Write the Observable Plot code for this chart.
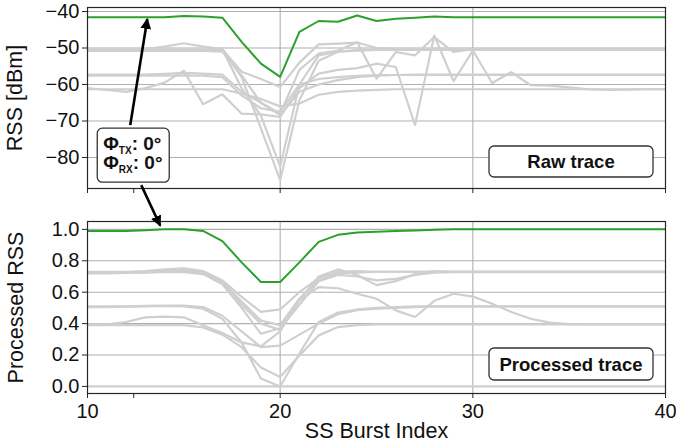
<!DOCTYPE html>
<html><head><meta charset="utf-8">
<script src="https://cdn.jsdelivr.net/npm/d3@7"></script>
<script src="https://cdn.jsdelivr.net/npm/@observablehq/plot@0.6"></script>
<style>
body{margin:0;background:#fff;}
#wrap{position:relative;width:676px;height:447px;font-family:"Liberation Sans",Arial,Helvetica,sans-serif;}
#wrap > svg{position:absolute;left:0;}
</style></head><body><div id="wrap"></div>
<script>
// SS burst indices
const burstIndex = [10,11,12,13,14,15,16,17,18,19,20,21,22,23,24,25,26,27,28,29,30,31,32,33,34,35,36,37,38,39,40];

// Raw RSS [dBm] — highlighted beam pair (green)
const rawBest = [-41.6,-41.6,-41.6,-41.6,-41.6,-41.2,-41.4,-41.7,-48.3,-54.3,-57.9,-45.6,-42.6,-42.8,-41.1,-42.6,-42.0,-41.7,-41.4,-41.6,-41.6,-41.6,-41.6,-41.6,-41.6,-41.6,-41.6,-41.6,-41.6,-41.6,-41.6];
// Raw RSS [dBm] — other beam pairs (grey)
const rawT1 = [-50.3,-50.3,-50.3,-50.3,-49.6,-48.7,-49.6,-50.3,-56.5,-58.5,-60.7,-54.0,-49.0,-48.8,-48.5,-50.0,-50.3,-50.4,-50.4,-50.4,-50.4,-50.4,-50.4,-50.4,-50.4,-50.4,-50.4,-50.4,-50.4,-50.4,-50.4];
const rawT2 = [-50.5,-50.5,-50.5,-50.5,-50.5,-50.5,-50.5,-50.5,-58.0,-72.0,-86.2,-64.3,-53.5,-51.0,-50.7,-50.5,-50.5,-50.5,-50.5,-50.5,-50.5,-50.5,-50.5,-50.5,-50.5,-50.5,-50.5,-50.5,-50.5,-50.5,-50.5];
const rawT3 = [-50.8,-50.8,-50.8,-50.8,-50.8,-50.8,-50.8,-51.0,-57.5,-65.0,-68.0,-56.0,-51.5,-50.7,-48.4,-58.4,-51.1,-52.0,-47.0,-51.1,-50.3,-50.3,-50.3,-50.3,-50.3,-50.3,-50.3,-50.3,-50.3,-50.3,-50.3];
const rawT4 = [-50.4,-50.4,-50.4,-50.4,-50.4,-50.4,-50.4,-50.4,-61.0,-68.5,-82.5,-60.0,-52.0,-51.0,-50.6,-50.5,-50.5,-50.5,-50.5,-50.5,-50.5,-50.5,-50.5,-50.5,-50.5,-50.5,-50.5,-50.5,-50.5,-50.5,-50.5];
const rawT5 = [-57.3,-57.3,-57.3,-57.3,-57.1,-56.8,-57.0,-57.3,-62.0,-65.0,-68.4,-62.0,-60.0,-58.8,-58.0,-57.6,-57.4,-57.3,-57.3,-57.3,-57.3,-57.3,-57.3,-57.3,-57.3,-57.3,-57.3,-57.3,-57.3,-57.3,-57.3];
const rawT6 = [-61.0,-61.5,-62.0,-61.0,-59.5,-56.2,-65.4,-62.7,-68.0,-68.2,-68.9,-61.0,-57.0,-56.0,-55.5,-54.3,-55.2,-71.1,-46.6,-59.1,-50.7,-59.6,-56.6,-60.2,-60.3,-60.8,-61.3,-61.5,-61.4,-61.3,-61.3];
const rawT7 = [-61.3,-61.3,-61.3,-61.3,-61.3,-61.3,-61.3,-61.3,-62.5,-64.0,-66.0,-65.2,-62.8,-62.0,-61.7,-61.5,-61.3,-61.3,-61.3,-61.3,-61.3,-61.3,-61.3,-61.3,-61.3,-61.3,-61.3,-61.3,-61.3,-61.3,-61.3];
const rawT8 = [-57.6,-57.6,-57.6,-57.6,-57.6,-57.5,-57.6,-58.0,-63.0,-66.5,-67.5,-60.0,-58.5,-58.0,-57.6,-57.4,-57.4,-57.4,-57.4,-57.4,-57.4,-57.4,-57.4,-57.4,-57.4,-57.4,-57.4,-57.4,-57.4,-57.4,-57.4];

// Processed RSS — highlighted beam pair (green)
const procBest = [0.99,0.99,0.99,0.995,1.0,1.0,0.99,0.925,0.79,0.665,0.665,0.79,0.92,0.965,0.98,0.985,0.99,0.993,0.997,1.0,1.0,1.0,1.0,1.0,1.0,1.0,1.0,1.0,1.0,1.0,1.0];
// Processed RSS — other beam pairs (grey)
const procP1 = [0.725,0.726,0.728,0.735,0.745,0.752,0.735,0.675,0.57,0.475,0.49,0.60,0.69,0.73,0.735,0.73,0.73,0.73,0.73,0.73,0.73,0.73,0.73,0.73,0.73,0.73,0.73,0.73,0.73,0.73,0.73];
const procP2 = [0.73,0.73,0.73,0.73,0.735,0.74,0.73,0.665,0.54,0.42,0.39,0.56,0.675,0.72,0.725,0.73,0.73,0.73,0.73,0.73,0.73,0.73,0.73,0.73,0.73,0.73,0.73,0.73,0.73,0.73,0.73];
const procP3 = [0.72,0.72,0.722,0.725,0.73,0.733,0.72,0.66,0.52,0.40,0.36,0.55,0.70,0.745,0.71,0.645,0.67,0.715,0.735,0.73,0.73,0.73,0.73,0.73,0.73,0.73,0.73,0.73,0.73,0.73,0.73];
const procP4 = [0.728,0.728,0.728,0.728,0.728,0.728,0.715,0.65,0.50,0.335,0.37,0.52,0.67,0.71,0.70,0.675,0.685,0.71,0.725,0.728,0.728,0.728,0.728,0.728,0.728,0.728,0.728,0.728,0.728,0.728,0.728];
const procP5 = [0.51,0.51,0.51,0.513,0.515,0.515,0.505,0.45,0.35,0.25,0.26,0.33,0.40,0.46,0.485,0.495,0.50,0.505,0.51,0.51,0.51,0.51,0.51,0.51,0.51,0.51,0.51,0.51,0.51,0.51,0.51];
const procP6 = [0.395,0.395,0.41,0.44,0.445,0.44,0.39,0.34,0.28,0.255,0.35,0.55,0.632,0.625,0.59,0.558,0.484,0.442,0.545,0.59,0.572,0.527,0.474,0.431,0.406,0.397,0.395,0.395,0.395,0.395,0.395];
const procP7 = [0.39,0.39,0.39,0.39,0.39,0.39,0.375,0.33,0.25,0.12,0.06,0.197,0.325,0.378,0.39,0.395,0.395,0.395,0.395,0.395,0.395,0.395,0.395,0.395,0.395,0.395,0.395,0.395,0.395,0.395,0.395];
const procP8 = [0.505,0.505,0.508,0.51,0.512,0.51,0.495,0.43,0.28,0.05,0.0,0.21,0.41,0.47,0.49,0.50,0.505,0.51,0.51,0.51,0.51,0.51,0.51,0.51,0.51,0.51,0.51,0.51,0.51,0.51,0.51];
const procP9 = [0,0,0,0,0,0,0,0,0,0,0,0,0,0,0,0,0,0,0,0,0,0,0,0,0,0,0,0,0,0,0];

// Tick values / labels
const rawTicks = [-80,-70,-60,-50,-40];
const procTicks = [0,0.2,0.4,0.6,0.8,1.0];
const xTicks = [10,12.4,20,30,40];
const xLabels = {10:"10",20:"20",30:"30",40:"40"};
const xGrid = [20,30];
const annot = {tx:"0°", rx:"0°"};

const rawOthers = [rawT1,rawT2,rawT3,rawT4,rawT5,rawT6,rawT7,rawT8];
const procOthers = [procP1,procP2,procP3,procP4,procP5,procP6,procP7,procP8,procP9];

const toLong = (series) => series.flatMap((s,k) => s.map((v,i) => ({x: burstIndex[i], y: v, k})));
const rawGrey = toLong(rawOthers), rawGreen = toLong([rawBest]);
const procGrey = toLong(procOthers), procGreen = toLong([procBest]);

const FONT = '"Liberation Sans", Arial, Helvetica, sans-serif';
const GRID = "#b0b0b0", GREY = "#cfcfcf", GREEN = "#2ca02c", SPINE = "#262626";
const minus = d => (d < 0 ? "\u2212" + Math.abs(d) : String(d));

const topPlot = Plot.plot({
  width: 676, height: 200,
  marginLeft: 87, marginRight: 11, marginTop: 7, marginBottom: 12,
  style: {fontFamily: FONT, fontSize: "20px", background: "transparent", color: "#111"},
  x: {domain: [10, 40]},
  y: {domain: [-88.5, -38.9]},
  marks: [
    Plot.gridY(rawTicks, {stroke: GRID, strokeOpacity: 1, strokeWidth: 1.1}),
    Plot.gridX(xGrid, {stroke: GRID, strokeOpacity: 1, strokeWidth: 1.1}),
    Plot.line(rawGrey, {x: "x", y: "y", z: "k", stroke: GREY, strokeWidth: 2.2, clip: true}),
    Plot.line(rawGreen, {x: "x", y: "y", stroke: GREEN, strokeWidth: 2, clip: true}),
    Plot.frame({stroke: SPINE, strokeWidth: 1.2}),
    Plot.axisY(rawTicks, {tickSize: 5, tickPadding: 3, tickFormat: minus, label: null, stroke: SPINE}),
    Plot.axisX(xTicks, {tickSize: 5, tickFormat: () => "", label: null, stroke: SPINE}),
    Plot.text(["RSS [dBm]"], {frameAnchor: "left", dx: -72, rotate: -90, textAnchor: "middle", lineAnchor: "middle", fontSize: 21.5, text: d => d, fill: "#111"})
  ]
});

const botPlot = Plot.plot({
  width: 676, height: 247,
  marginLeft: 87, marginRight: 11, marginTop: 21, marginBottom: 54,
  style: {fontFamily: FONT, fontSize: "20px", background: "transparent", color: "#111"},
  x: {domain: [10, 40]},
  y: {domain: [-0.045, 1.05]},
  marks: [
    Plot.gridY(procTicks, {stroke: GRID, strokeOpacity: 1, strokeWidth: 1.1}),
    Plot.gridX(xGrid, {stroke: GRID, strokeOpacity: 1, strokeWidth: 1.1}),
    Plot.line(procGrey, {x: "x", y: "y", z: "k", stroke: GREY, strokeWidth: 2.2, clip: true}),
    Plot.line(procGreen, {x: "x", y: "y", stroke: GREEN, strokeWidth: 2, clip: true}),
    Plot.frame({stroke: SPINE, strokeWidth: 1.2}),
    Plot.axisY(procTicks, {tickSize: 5, tickPadding: 3, tickFormat: d3.format(".1f"), label: null, stroke: SPINE}),
    Plot.axisX(xTicks, {tickSize: 5, tickPadding: 5, tickFormat: d => xLabels[d] ?? "", label: null, stroke: SPINE}),
    Plot.text(["Processed RSS"], {frameAnchor: "left", dx: -71, rotate: -90, textAnchor: "middle", lineAnchor: "middle", fontSize: 21.5, text: d => d, fill: "#111"}),
    Plot.text(["SS Burst Index"], {frameAnchor: "bottom", dy: 38, lineAnchor: "middle", fontSize: 21.5, text: d => d, fill: "#111"})
  ]
});

const wrap = document.getElementById("wrap");
const BOT_TOP = 200;
topPlot.style.top = "0px";
botPlot.style.top = BOT_TOP + "px";
wrap.appendChild(topPlot);
wrap.appendChild(botPlot);

// Overlay for annotations (boxes and arrows spanning both panels)
const xT = topPlot.scale("x"), yT = topPlot.scale("y");
const xB = botPlot.scale("x"), yB = botPlot.scale("y");

const svg = d3.select(wrap).append("svg")
  .attr("width", 676).attr("height", 447)
  .style("position", "absolute").style("top", "0px").style("left", "0px")
  .style("pointer-events", "none")
  .attr("font-family", FONT);

function labelBox(cx, cy, w, h, text) {
  svg.append("rect").attr("x", cx - w/2).attr("y", cy - h/2).attr("width", w).attr("height", h)
    .attr("rx", 5).attr("fill", "white").attr("stroke", "#333").attr("stroke-width", 1.3);
  svg.append("text").attr("x", cx).attr("y", cy).attr("dy", "0.36em").attr("text-anchor", "middle")
    .attr("font-weight", "bold").attr("font-size", 18.5).attr("fill", "#111").text(text);
}
const topRight = xT.apply(40), topBottom = yT.apply(-88.5);
labelBox(topRight - 12 - 82, topBottom - 11 - 15.5, 164, 31, "Raw trace");
const botRight = xB.apply(40), botBottom = BOT_TOP + yB.apply(-0.045);
labelBox(botRight - 12 - 82, botBottom - 13 - 16, 164, 32, "Processed trace");

// arrow helper
svg.append("defs").append("marker").attr("id", "ah").attr("viewBox", "0 0 10 10")
  .attr("refX", 9).attr("refY", 5).attr("markerWidth", 4.2).attr("markerHeight", 4.2)
  .attr("markerUnits", "strokeWidth").attr("orient", "auto")
  .append("path").attr("d", "M0,0 L10,5 L0,10 z").attr("fill", "#000");
function arrow(x1, y1, x2, y2) {
  svg.append("line").attr("x1", x1).attr("y1", y1).attr("x2", x2).attr("y2", y2)
    .attr("stroke", "#000").attr("stroke-width", 2.6).attr("marker-end", "url(#ah)");
}

// annotation box centred in data coordinates of the raw panel
const bcx = xT.apply(12.4), bcy = yT.apply(-79.5), bw = 72, bh = 54;
arrow(bcx - 3, bcy - bh/2 - 3, xT.apply(13.13), yT.apply(-42.2));
arrow(bcx + 8, bcy + bh/2 + 3, xB.apply(13.8), BOT_TOP + yB.apply(1.02));
svg.append("rect").attr("x", bcx - bw/2).attr("y", bcy - bh/2).attr("width", bw).attr("height", bh)
  .attr("rx", 5).attr("fill", "white").attr("stroke", "#333").attr("stroke-width", 1.3);
function phiLine(y, sub, val) {
  const t = svg.append("text").attr("x", bcx - bw/2 + 6).attr("y", y).attr("font-weight", "bold").attr("fill", "#111");
  t.append("tspan").attr("font-size", 19).text("\u03A6");
  t.append("tspan").attr("font-size", 10).attr("dy", 4).text(sub);
  t.append("tspan").attr("font-size", 19).attr("dy", -4).text(": " + val);
}
phiLine(bcy - bh/2 + 22, "TX", annot.tx);
phiLine(bcy - bh/2 + 41, "RX", annot.rx);
</script></body></html>
